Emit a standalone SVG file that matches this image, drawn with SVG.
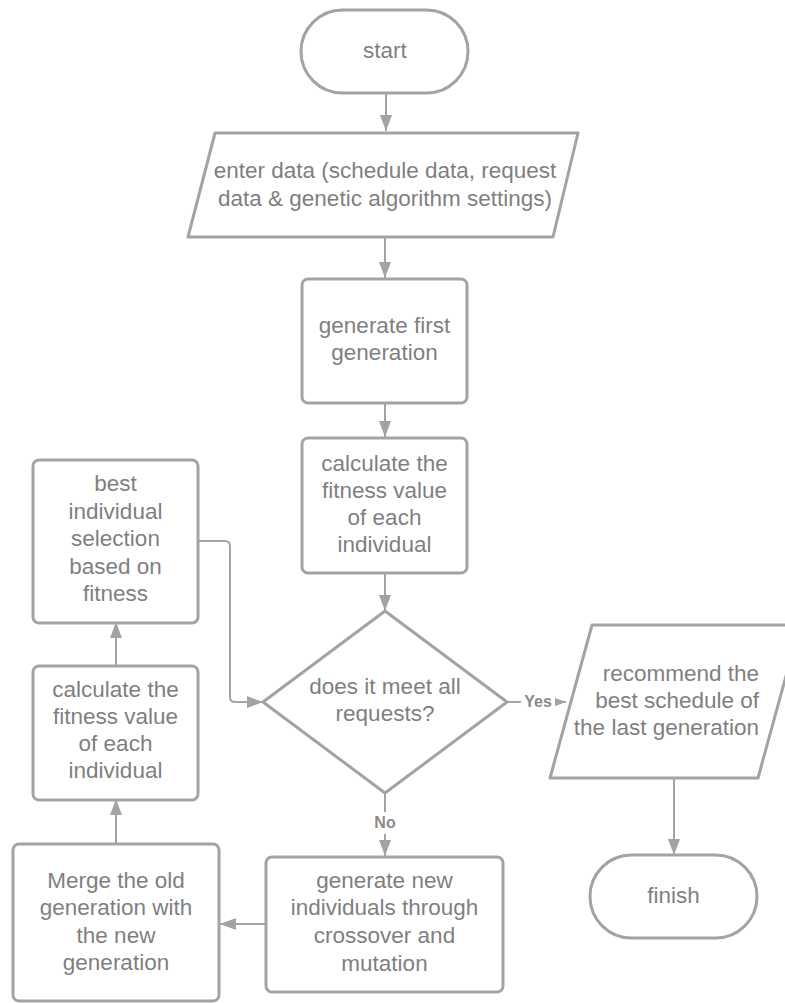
<svg xmlns="http://www.w3.org/2000/svg" width="785" height="1003" viewBox="0 0 785 1003">
<style>
.shape{fill:#ffffff;stroke:#a3a3a3;stroke-width:3;stroke-linejoin:round}
.conn{fill:none;stroke:#a3a3a3;stroke-width:2}
.t{font-family:"Liberation Sans",Arial,sans-serif;font-size:22.5px;fill:#7f7f7f;text-anchor:middle}
.lbl{font-family:"Liberation Sans",Arial,sans-serif;font-size:16px;font-weight:bold;fill:#8a8a8a;text-anchor:middle}
</style>
<defs>
<marker id="ah" markerUnits="userSpaceOnUse" markerWidth="16" markerHeight="12" refX="16" refY="6" orient="auto">
<path d="M0,0 L16,6 L0,12 z" fill="#a3a3a3"/>
</marker>
</defs>
<rect width="785" height="1003" fill="#ffffff"/>
<g id="connectors">
<line class="conn" x1="386" y1="94" x2="386" y2="131" marker-end="url(#ah)"/>
<line class="conn" x1="385" y1="238" x2="385" y2="278" marker-end="url(#ah)"/>
<line class="conn" x1="385" y1="404" x2="385" y2="437" marker-end="url(#ah)"/>
<line class="conn" x1="385" y1="574" x2="385" y2="611" marker-end="url(#ah)"/>
<line class="conn" x1="508" y1="702" x2="566" y2="702" marker-end="url(#ah)"/>
<line class="conn" x1="385" y1="794" x2="385" y2="856" marker-end="url(#ah)"/>
<line class="conn" x1="674" y1="779" x2="674" y2="855" marker-end="url(#ah)"/>
<path class="conn" d="M199,541 H225 Q230,541 230,546 V697 Q230,702 235,702 H263" marker-end="url(#ah)"/>
<line class="conn" x1="116" y1="665" x2="116" y2="622" marker-end="url(#ah)"/>
<line class="conn" x1="116" y1="843" x2="116" y2="799" marker-end="url(#ah)"/>
<line class="conn" x1="265" y1="924" x2="220" y2="924" marker-end="url(#ah)"/>
<rect x="521" y="690" width="34" height="22" fill="#ffffff"/>
<text class="lbl" x="538" y="707">Yes</text>
<rect x="371" y="812" width="28" height="22" fill="#ffffff"/>
<text class="lbl" x="385" y="828">No</text>
</g>
<g id="start">
<rect class="shape" x="301" y="10" width="167" height="83" rx="41.5"/>
<text class="t" x="385" y="58">start</text>
</g>
<g id="enter-data">
<path class="shape" d="M215,133 H578 L553,237 H188 Z"/>
<text class="t" x="385" y="178">enter data (schedule data, request</text>
<text class="t" x="385" y="206">data &amp; genetic algorithm settings)</text>
</g>
<g id="generate-first">
<rect class="shape" x="302" y="279" width="165" height="124" rx="6"/>
<text class="t" x="384.5" y="333">generate first</text>
<text class="t" x="384.5" y="360">generation</text>
</g>
<g id="calc-fitness-1">
<rect class="shape" x="302" y="438" width="165" height="135" rx="6"/>
<text class="t" x="384.5" y="471">calculate the</text>
<text class="t" x="384.5" y="498">fitness value</text>
<text class="t" x="384.5" y="525">of each</text>
<text class="t" x="384.5" y="552">individual</text>
</g>
<g id="decision">
<path class="shape" d="M385,611 L507,702 L385,793 L263,702 Z"/>
<text class="t" x="385" y="694">does it meet all</text>
<text class="t" x="385" y="721">requests?</text>
</g>
<g id="recommend">
<path class="shape" d="M592,625 H800 L758,778 H550 Z"/>
<text class="t" x="759" y="681" style="text-anchor:end">recommend the</text>
<text class="t" x="759" y="708" style="text-anchor:end">best schedule of</text>
<text class="t" x="759" y="735" style="text-anchor:end">the last generation</text>
</g>
<g id="finish">
<rect class="shape" x="590" y="855" width="167" height="83" rx="41.5"/>
<text class="t" x="673.5" y="903">finish</text>
</g>
<g id="best-selection">
<rect class="shape" x="33" y="460" width="165" height="163" rx="6"/>
<text class="t" x="115.5" y="491">best</text>
<text class="t" x="115.5" y="518.5">individual</text>
<text class="t" x="115.5" y="546">selection</text>
<text class="t" x="115.5" y="573.5">based on</text>
<text class="t" x="115.5" y="601">fitness</text>
</g>
<g id="calc-fitness-2">
<rect class="shape" x="33" y="666" width="165" height="134" rx="6"/>
<text class="t" x="115.5" y="697">calculate the</text>
<text class="t" x="115.5" y="724">fitness value</text>
<text class="t" x="115.5" y="751">of each</text>
<text class="t" x="115.5" y="778">individual</text>
</g>
<g id="merge">
<rect class="shape" x="13" y="844" width="206" height="157" rx="6"/>
<text class="t" x="116" y="888">Merge the old</text>
<text class="t" x="116" y="915">generation with</text>
<text class="t" x="116" y="943">the new</text>
<text class="t" x="116" y="970">generation</text>
</g>
<g id="generate-new">
<rect class="shape" x="266" y="857" width="237" height="135" rx="6"/>
<text class="t" x="384.5" y="888">generate new</text>
<text class="t" x="384.5" y="915">individuals through</text>
<text class="t" x="384.5" y="943">crossover and</text>
<text class="t" x="384.5" y="971">mutation</text>
</g>
</svg>
